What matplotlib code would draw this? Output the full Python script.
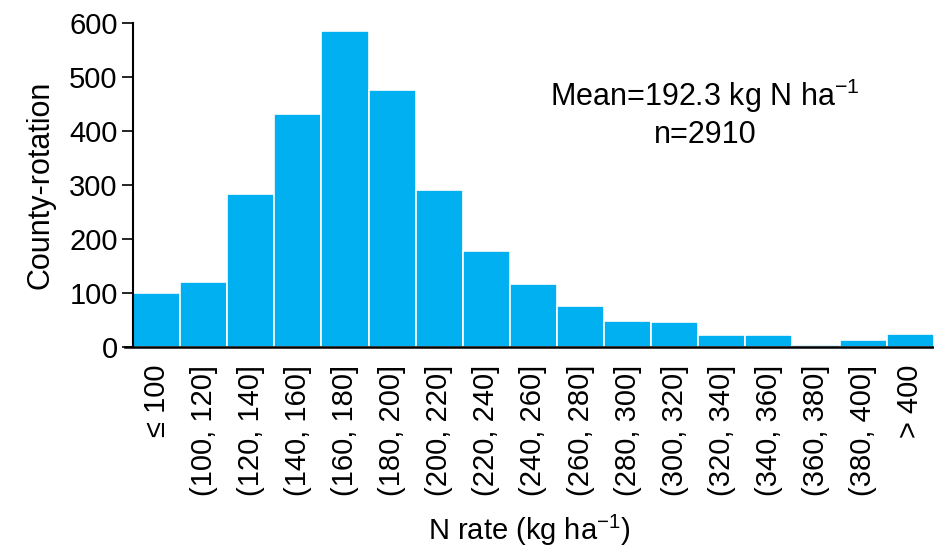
import matplotlib
matplotlib.use("Agg")
import matplotlib.pyplot as plt
import numpy as np

plt.rcParams['font.family'] = ['Liberation Sans', 'DejaVu Sans']
plt.rcParams['mathtext.fontset'] = 'custom'
plt.rcParams['mathtext.rm'] = 'Liberation Sans'
plt.rcParams['mathtext.it'] = 'Liberation Sans'

bins = ["\u2264 100", "(100, 120]", "(120, 140]", "(140, 160]", "(160, 180]",
        "(180, 200]", "(200, 220]", "(220, 240]", "(240, 260]", "(260, 280]",
        "(280, 300]", "(300, 320]", "(320, 340]", "(340, 360]", "(360, 380]",
        "(380, 400]", "> 400"]
counts = [100, 119, 283, 430, 585, 475, 290, 178, 116, 76, 47, 45, 21, 21, 3, 12, 24]

fig = plt.figure(figsize=(9.34, 5.6), dpi=100)
ax = fig.add_axes([0.1338, 0.381, 0.866, 0.5785])

x = np.arange(len(bins))
ax.bar(x, counts, width=1.0, color='#00B0F0', edgecolor='white', linewidth=1.2)

ax.set_xlim(-0.67, 16.5)
ax.set_ylim(0, 600)
ax.spines['top'].set_visible(False)
ax.spines['right'].set_visible(False)
ax.spines['left'].set_position(('data', -0.5))
ax.spines['left'].set_linewidth(1.5)
ax.spines['bottom'].set_linewidth(1.8)

ax.set_yticks([0, 100, 200, 300, 400, 500, 600])
ax.tick_params(axis='y', length=8, width=1.2, labelsize=21, pad=3)
ax.set_xticks(x)
ax.set_xticklabels(bins, rotation=90, fontsize=21)
ax.tick_params(axis='x', length=0, pad=13)

ax.set_ylabel("County-rotation", fontsize=22, labelpad=10)
ax.set_xlabel("N rate (kg ha$^{-1}$)", fontsize=21, labelpad=12)

ax.text(0.717, 0.72, "Mean=192.3 kg N ha$^{-1}$\nn=2910", transform=ax.transAxes,
        ha='center', va='center', fontsize=22, linespacing=1.25)

fig.savefig("out.png", dpi=100)
